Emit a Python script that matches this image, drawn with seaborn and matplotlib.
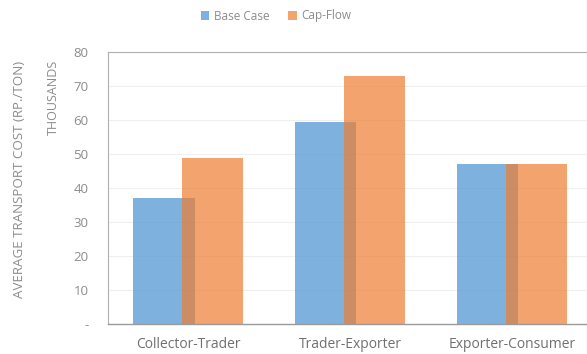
import matplotlib
matplotlib.use("Agg")
import matplotlib.pyplot as plt
from matplotlib.patches import Patch
import seaborn as sns
import pandas as pd

# Average transport cost per segment (thousand Rp./ton)
segments = ["Collector-Trader", "Trader-Exporter", "Exporter-Consumer"]
base_case = [37, 59.5, 47]
cap_flow = [48.7, 73, 47]
series_names = ["Base Case", "Cap-Flow"]
y_ticks = [0, 10, 20, 30, 40, 50, 60, 70, 80]
y_tick_labels = ["-", "10", "20", "30", "40", "50", "60", "70", "80"]

df = pd.DataFrame({
    "segment": segments * 2,
    "series": [series_names[0]] * 3 + [series_names[1]] * 3,
    "cost": base_case + cap_flow,
})

sns.set_theme(style="white")
plt.rcParams["font.family"] = ["Open Sans", "DejaVu Sans"]

blue = (91 / 255, 155 / 255, 213 / 255)
orange = (237 / 255, 125 / 255, 49 / 255)
text_grey = "#8c8c8c"

fig = plt.figure(figsize=(5.87, 3.54), dpi=100)
ax = fig.add_axes([108 / 587, 30 / 354, 479 / 587, 272 / 354])

sns.barplot(data=df, x="segment", y="cost", hue="series",
            hue_order=series_names, order=segments,
            palette={series_names[0]: blue, series_names[1]: orange},
            saturation=1, width=0.6, linewidth=0, edgecolor="none",
            errorbar=None, legend=False, ax=ax)

# Widen the dodged bars so the two series overlap around each category
bar_w = 0.38
alphas = [0.78, 0.70]
for cont, a in zip(ax.containers, alphas):
    for p in cont.patches:
        cx = p.get_x() + p.get_width() / 2
        p.set_width(bar_w)
        p.set_x(cx - bar_w / 2)
        p.set_alpha(a)

ax.set_xlim(-0.494, 2.463)
ax.set_ylim(0, 80)
ax.set_yticks(y_ticks)
ax.set_yticklabels(y_tick_labels)
ax.set_xlabel("")
ax.set_ylabel("")
ax.yaxis.grid(True, color="#efefef", linewidth=0.8)
ax.set_axisbelow(True)

for side in ["top", "left"]:
    ax.spines[side].set_color("#b0b0b0")
    ax.spines[side].set_linewidth(0.8)
ax.spines["right"].set_visible(False)
ax.spines["bottom"].set_color("#9a9a9a")
ax.spines["bottom"].set_linewidth(1.0)

ax.tick_params(axis="y", length=0, pad=14, labelsize=9.5, labelcolor=text_grey)
ax.tick_params(axis="x", length=0, pad=9, labelsize=10, labelcolor="#707070")

fig.text(20 / 587, 1 - 179 / 354, "AVERAGE TRANSPORT COST (RP./TON)",
         rotation=90, ha="center", va="center", fontsize=9.6, color=text_grey)
fig.text(53 / 587, 1 - 97 / 354, "THOUSANDS",
         rotation=90, ha="center", va="center", fontsize=9, color=text_grey)

handles = [Patch(facecolor=blue, alpha=0.78, edgecolor="none"),
           Patch(facecolor=orange, alpha=0.70, edgecolor="none")]
leg = fig.legend(handles, series_names, loc="center", bbox_to_anchor=(276 / 587, 1 - 16 / 354),
                 ncol=2, frameon=False, fontsize=8.5, handlelength=0.7, handleheight=0.7,
                 handletextpad=0.4, columnspacing=1.6, labelcolor=text_grey)

fig.savefig("out.png", dpi=100)
